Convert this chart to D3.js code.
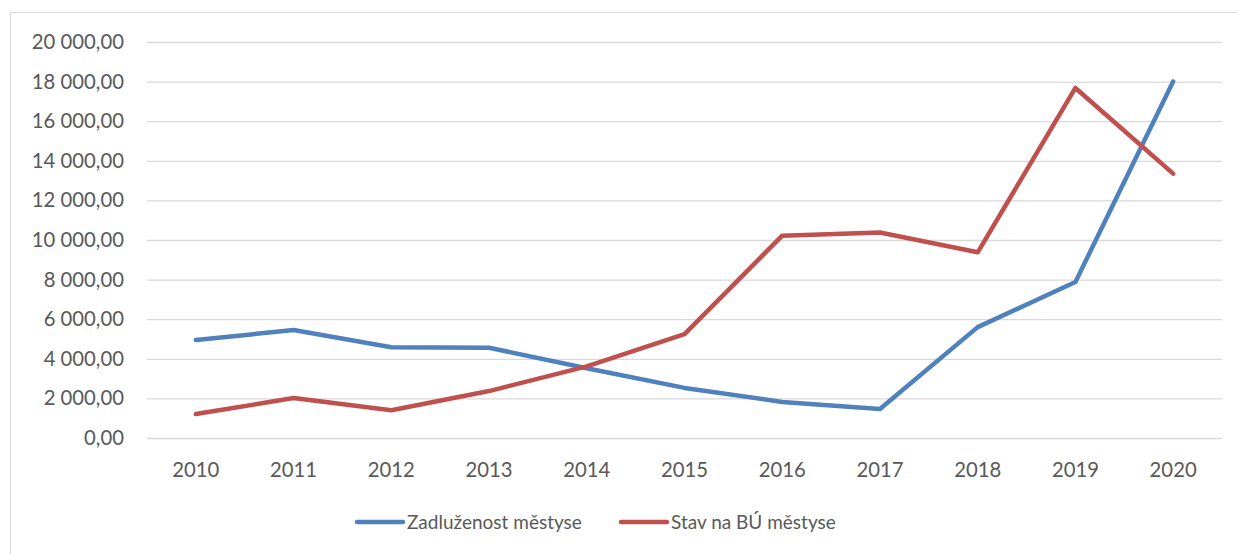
<!DOCTYPE html>
<html>
<head>
<meta charset="utf-8">
<script src="https://cdn.jsdelivr.net/npm/d3@7"></script>
<style>
  html, body { margin: 0; padding: 0; background: #fff; }
  svg text { font-family: Lato, "Open Sans", sans-serif; fill: #595959; }
</style>
</head>
<body>
<svg id="chart" width="1237" height="554"></svg>
<script>
// Years on the category axis
const years = ["2010","2011","2012","2013","2014","2015","2016","2017","2018","2019","2020"];
// Municipal debt (Zadluženost městyse)
const debt = [4950, 5450, 4580, 4560, 3520, 2530, 1820, 1460, 5600, 7880, 18000];
// Bank account balance (Stav na BÚ městyse)
const balance = [1210, 2020, 1400, 2370, 3620, 5250, 10220, 10380, 9380, 17680, 13350];
// Value axis ticks
const yTicks = [0, 2000, 4000, 6000, 8000, 10000, 12000, 14000, 16000, 18000, 20000];

const seriesNames = ["Zadluženost městyse", "Stav na BÚ městyse"];
const seriesColors = ["#4F81BD", "#C0504D"];

const svg = d3.select("#chart");

// outer chart frame
svg.append("rect")
  .attr("x", 10.5).attr("y", 12.5)
  .attr("width", 1240).attr("height", 560)
  .attr("fill", "none").attr("stroke", "#d9d9d9").attr("stroke-width", 1);

const plot = { left: 147, right: 1222, top: 42, bottom: 438 };

const x = d3.scaleBand().domain(years).range([plot.left, plot.right]);
const y = d3.scaleLinear().domain([0, 20000]).range([plot.bottom, plot.top]);

const fmt = v => {
  const s = d3.format(",.2f")(v);
  return s.replace(/,/g, " ").replace(".", ",");
};

// horizontal gridlines + value labels
const yAxis = d3.axisLeft(y).tickValues(yTicks)
  .tickSize(-(plot.right - plot.left)).tickPadding(23).tickFormat(fmt);
const gy = svg.append("g").attr("transform", `translate(${plot.left},0)`).call(yAxis);
gy.select(".domain").remove();
gy.selectAll(".tick line").attr("stroke", "#d9d9d9").attr("stroke-width", 1.3);
gy.selectAll(".tick text").attr("font-size", 20.3).attr("fill", "#595959");

// category labels
const xAxis = d3.axisBottom(x).tickSize(0).tickPadding(25);
const gx = svg.append("g").attr("transform", `translate(0,${plot.bottom})`).call(xAxis);
gx.select(".domain").remove();
gx.selectAll(".tick text").attr("font-size", 20.3).attr("fill", "#595959");

const line = d3.line()
  .x((d, i) => x(years[i]) + x.bandwidth() / 2)
  .y(d => y(d));

[debt, balance].forEach((vals, k) => {
  svg.append("path")
    .datum(vals)
    .attr("d", line)
    .attr("fill", "none")
    .attr("stroke", seriesColors[k])
    .attr("stroke-width", 4.5)
    .attr("stroke-linejoin", "round")
    .attr("stroke-linecap", "round");
});

// legend
const legendItems = [{ x: 357 }, { x: 621 }];
legendItems.forEach((it, k) => {
  const g = svg.append("g").attr("transform", `translate(${it.x},522)`);
  g.append("line").attr("x1", 0).attr("x2", 46).attr("y1", 0).attr("y2", 0)
    .attr("stroke", seriesColors[k]).attr("stroke-width", 4.5).attr("stroke-linecap", "round");
  g.append("text").attr("x", 50).attr("y", 0).attr("dy", "0.35em")
    .attr("font-size", 19).text(seriesNames[k]);
});
</script>
</body>
</html>
